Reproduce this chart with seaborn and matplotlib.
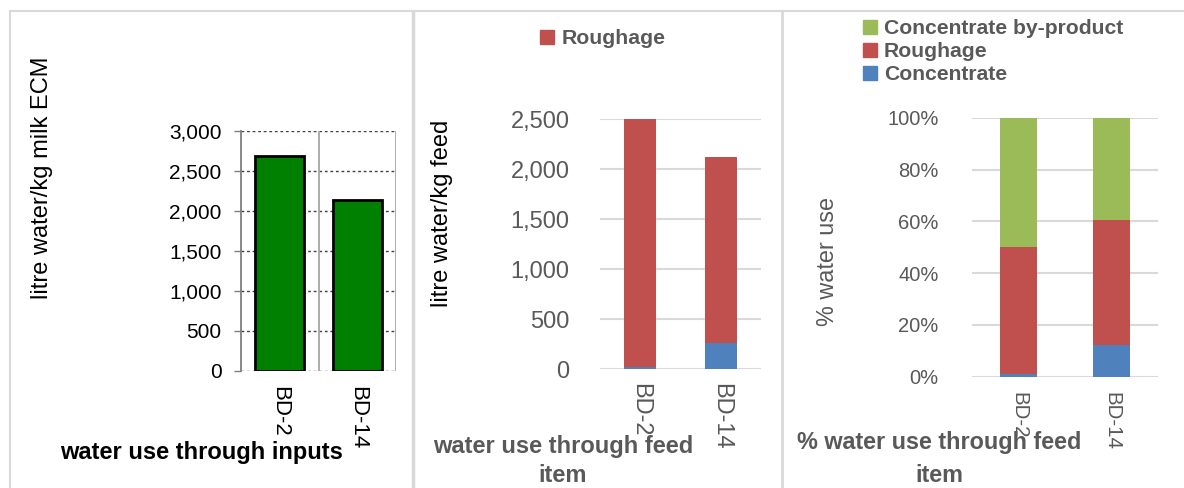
import numpy as np
import matplotlib
matplotlib.use("Agg")
import matplotlib.pyplot as plt
from matplotlib.lines import Line2D
from matplotlib.patches import Patch
from matplotlib.ticker import FuncFormatter
import seaborn as sns

# ---- data ----
farms = ["BD-2", "BD-14"]
milk_water = [2690, 2140]            # litre water / kg milk ECM
feed_concentrate = [25, 260]         # litre water / kg feed
feed_roughage = [2480, 1865]
pct_concentrate = [0.9, 12.2]        # % water use by feed item
pct_roughage = [49.3, 48.3]
pct_byproduct = [49.8, 39.5]

# ---- style ----
sns.set_theme(style="white")
plt.rcParams["font.family"] = ["Liberation Sans", "DejaVu Sans"]

GREEN = "#008000"
RED = "#C0504D"
BLUE = "#4F81BD"
LGREEN = "#9BBB59"
GRAY_TXT = "#595959"
GRID = "#D9D9D9"

W, H = 1184, 488
fig = plt.figure(figsize=(W / 100, H / 100), dpi=100)
fig.patch.set_facecolor("white")


def px_axes(left, top, right, bottom):
    return fig.add_axes([left / W, 1 - bottom / H, (right - left) / W, (bottom - top) / H])


def fx(x):
    return x / W


def fy(y):
    return 1 - y / H


comma = FuncFormatter(lambda v, _: f"{v:,.0f}")
pct = FuncFormatter(lambda v, _: f"{v:.0f}%")

# ---- panel frames ----
for xs, ys, lw in [
    ([9.5, W], [11, 11], 1.5),
    ([9.5, 9.5], [11, H], 1.5),
    ([412.5, 412.5], [11, H], 2.5),
    ([782, 782], [11, H], 2.0),
]:
    fig.add_artist(Line2D([fx(v) for v in xs], [fy(v) for v in ys],
                          transform=fig.transFigure, color=GRID, lw=lw))

# ---- panel 1: water use through inputs ----
ax1 = px_axes(241, 131, 396, 371)
sns.barplot(x=farms, y=milk_water, color=GREEN, saturation=1, width=0.63,
            edgecolor="black", linewidth=2, ax=ax1, zorder=3)
ax1.set_xlim(-0.5, 1.5)
ax1.set_ylim(0, 3000)
ax1.set_yticks(np.arange(0, 3001, 500))
ax1.yaxis.set_major_formatter(comma)
for v in np.arange(0, 3001, 500):
    ax1.axhline(v, color="#404040", ls=(0, (2, 2)), lw=1, zorder=1)
for v in (0.5, 1.5):
    ax1.axvline(v, color="#A6A6A6", lw=1.3, zorder=1)
for s in ax1.spines.values():
    s.set_visible(False)
ax1.spines["left"].set_visible(True)
ax1.spines["left"].set_color("#7F7F7F")
ax1.spines["left"].set_linewidth(1.3)
ax1.tick_params(axis="y", which="major", left=True, length=5, width=1, color="#7F7F7F",
                labelsize=15, labelcolor="black", pad=9, direction="out")
ax1.tick_params(axis="x", length=0, labelsize=16, labelcolor="black", pad=11, labelrotation=-90)
ax1.set_xlabel("")
ax1.set_ylabel("")
fig.text(fx(42), fy(178), "litre water/kg milk ECM", rotation=90, ha="center", va="center",
         fontsize=17, color="black")
fig.text(fx(202), fy(453), "water use through inputs", ha="center", va="center",
         fontsize=17, fontweight="bold", color="black")

# ---- panel 2: water use through feed item ----
ax2 = px_axes(600, 119.3, 761, 369.3)
feed_total = np.add(feed_concentrate, feed_roughage)
sns.barplot(x=farms, y=feed_total, color=RED, saturation=1, width=0.4, linewidth=0,
            ax=ax2, zorder=3)
sns.barplot(x=farms, y=feed_concentrate, color=BLUE, saturation=1, width=0.4, linewidth=0,
            ax=ax2, zorder=4)
ax2.set_xlim(-0.5, 1.5)
ax2.set_ylim(0, 2500)
ax2.set_yticks(np.arange(0, 2501, 500))
ax2.yaxis.set_major_formatter(comma)
for v in np.arange(0, 2501, 500):
    ax2.axhline(v, color=GRID, lw=1.5, zorder=1)
for s in ax2.spines.values():
    s.set_visible(False)
ax2.tick_params(axis="y", left=False, length=0, labelsize=17, labelcolor=GRAY_TXT, pad=22)
ax2.tick_params(axis="x", length=0, labelsize=17, labelcolor=GRAY_TXT, pad=10, labelrotation=-90)
ax2.set_xlabel("")
ax2.set_ylabel("")
ax2.legend(handles=[Patch(color=RED, label="Roughage")], loc="center",
           bbox_to_anchor=(fx(603), fy(39)), bbox_transform=fig.transFigure,
           frameon=False, prop={"size": 15.3, "weight": "bold"}, labelcolor=GRAY_TXT,
           handlelength=0.65, handleheight=0.65, handletextpad=0.35,
           borderpad=0, borderaxespad=0)
fig.text(fx(442), fy(213), "litre water/kg feed", rotation=90, ha="center", va="center",
         fontsize=17, color="black")
fig.text(fx(563), fy(447), "water use through feed", ha="center", va="center",
         fontsize=17, fontweight="bold", color=GRAY_TXT)
fig.text(fx(563), fy(475), "item", ha="center", va="center",
         fontsize=17, fontweight="bold", color=GRAY_TXT)

# ---- panel 3: % water use through feed item ----
ax3 = px_axes(972, 117.7, 1158, 376.7)
cum_conc = np.array(pct_concentrate)
cum_rough = cum_conc + np.array(pct_roughage)
cum_all = cum_rough + np.array(pct_byproduct)
sns.barplot(x=farms, y=cum_all, color=LGREEN, saturation=1, width=0.4, linewidth=0,
            ax=ax3, zorder=3)
sns.barplot(x=farms, y=cum_rough, color=RED, saturation=1, width=0.4, linewidth=0,
            ax=ax3, zorder=4)
sns.barplot(x=farms, y=cum_conc, color=BLUE, saturation=1, width=0.4, linewidth=0,
            ax=ax3, zorder=5)
ax3.set_xlim(-0.5, 1.5)
ax3.set_ylim(0, 100)
ax3.set_yticks(np.arange(0, 101, 20))
ax3.yaxis.set_major_formatter(pct)
for v in np.arange(0, 101, 20):
    ax3.axhline(v, color=GRID, lw=1.5, zorder=1)
for s in ax3.spines.values():
    s.set_visible(False)
ax3.tick_params(axis="y", left=False, length=0, labelsize=14.5, labelcolor=GRAY_TXT, pad=24)
ax3.tick_params(axis="x", length=0, labelsize=14.8, labelcolor=GRAY_TXT, pad=11, labelrotation=-90)
ax3.set_xlabel("")
ax3.set_ylabel("")
ax3.legend(handles=[Patch(color=LGREEN, label="Concentrate by-product"),
                    Patch(color=RED, label="Roughage"),
                    Patch(color=BLUE, label="Concentrate")],
           loc="upper left", bbox_to_anchor=(fx(863), fy(19)), bbox_transform=fig.transFigure,
           frameon=False, prop={"size": 15.2, "weight": "bold"}, labelcolor=GRAY_TXT,
           handlelength=0.65, handleheight=0.65, handletextpad=0.35, labelspacing=0.2,
           borderpad=0, borderaxespad=0)
fig.text(fx(827), fy(261), "% water use", rotation=90, ha="center", va="center",
         fontsize=16.8, color=GRAY_TXT)
fig.text(fx(939), fy(443), "% water use through feed", ha="center", va="center",
         fontsize=16.8, fontweight="bold", color=GRAY_TXT)
fig.text(fx(939), fy(475), "item", ha="center", va="center",
         fontsize=16.8, fontweight="bold", color=GRAY_TXT)

fig.savefig("out.png", dpi=100, facecolor="white")
